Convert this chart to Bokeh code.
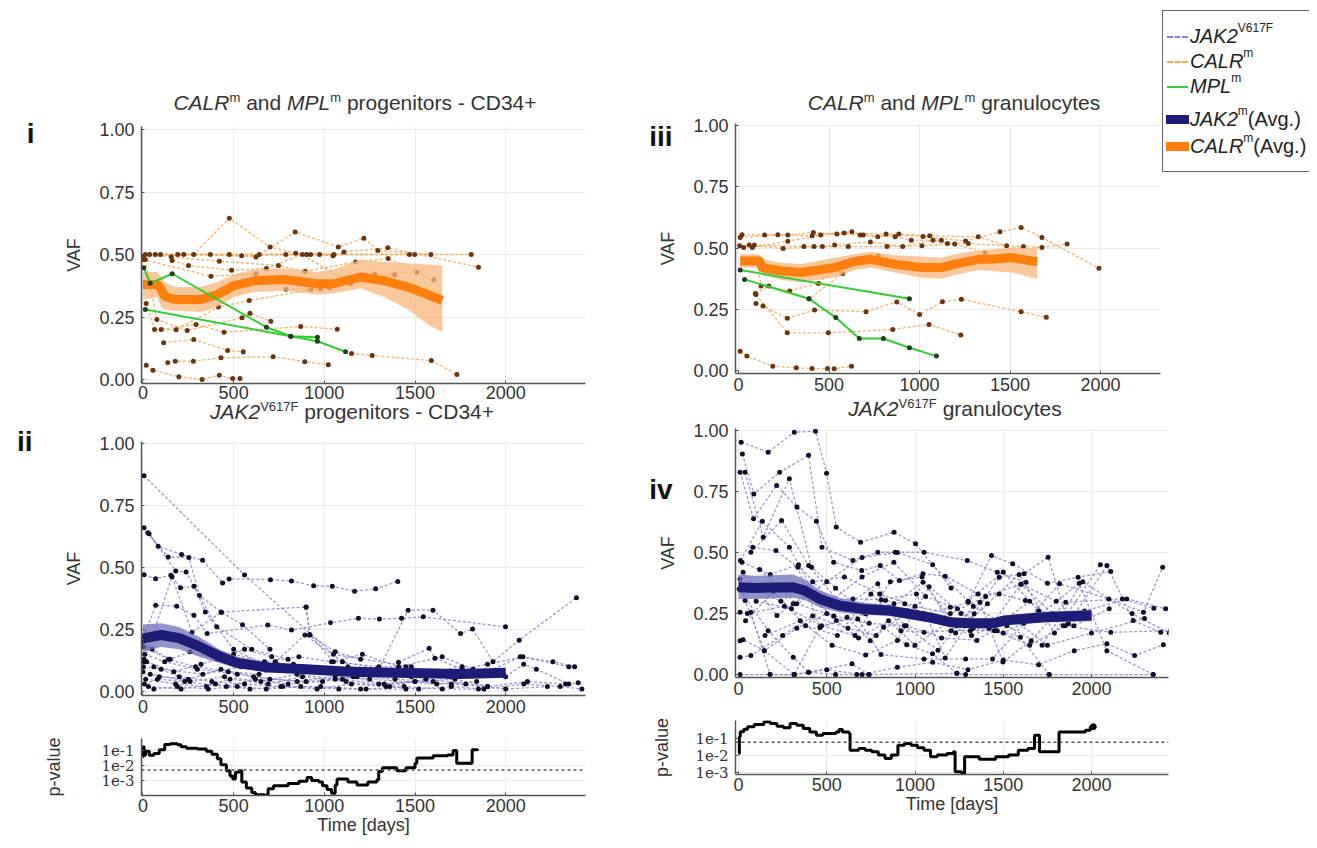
from bokeh.plotting import figure
from bokeh.models import (Range1d, FixedTicker, NumeralTickFormatter, CustomJSTickFormatter,
                          LinearAxis, Div, Spacer, Span)
from bokeh.layouts import row, column
from bokeh.embed import file_html
from bokeh.resources import INLINE

# ---------------- data ----------------
# Panel i : CALR / MPL progenitors (CD34+)
calr_cd34_t = [[13, 476, 925, 1498, 1810], [37, 225, 641, 974, 1469],
               [0, 280, 476, 701, 842, 1053], [68, 372, 623, 839, 1077, 1218, 1295, 1588],
               [97, 192, 544, 788, 903, 1048, 1108, 1350, 1850], [156, 421, 747, 894, 1172, 1352, 1603],
               [161, 251, 489, 681, 879, 1145, 1388], [0, 375, 623, 788, 980, 1278, 1511],
               [18, 64, 183, 416, 586, 925, 1029], [13, 77, 244, 546, 590, 705],
               [101, 293, 447, 870, 1071], [114, 280, 467, 553],
               [137, 178, 278, 430, 718, 892, 1022], [1150, 1264, 1590, 1731],
               [18, 55, 198, 326, 421, 495, 535]]
calr_cd34_v = [[0.50, 0.50, 0.50, 0.50, 0.50], [0.50, 0.50, 0.50, 0.50, 0.50],
               [0.49, 0.50, 0.645, 0.53, 0.505, 0.50], [0.50, 0.50, 0.49, 0.59, 0.53, 0.565, 0.516, 0.50],
               [0.50, 0.50, 0.495, 0.50, 0.50, 0.495, 0.51, 0.527, 0.449], [0.49, 0.473, 0.456, 0.433, 0.47, 0.484, 0.399],
               [0.476, 0.456, 0.437, 0.444, 0.50, 0.383, 0.419], [0.48, 0.413, 0.423, 0.361, 0.363, 0.421, 0.429],
               [0.304, 0.20, 0.199, 0.29, 0.316, 0.359, 0.367], [0.48, 0.24, 0.196, 0.247, 0.265, 0.233],
               [0.20, 0.22, 0.189, 0.212, 0.201], [0.147, 0.16, 0.116, 0.111],
               [0.067, 0.073, 0.073, 0.087, 0.091, 0.071, 0.059], [0.104, 0.096, 0.076, 0.02],
               [0.057, 0.037, 0.011, 0.0, 0.017, 0.004, 0.004]]
mpl_cd34_t = [[5, 40, 161, 681, 815, 962], [13, 815, 962, 1117]]
mpl_cd34_v = [[0.447, 0.385, 0.423, 0.209, 0.173, 0.169], [0.28, 0.173, 0.153, 0.111]]
calr_cd34_avg_t = [0, 80, 100, 120, 175, 320, 410, 500, 610, 780, 960, 1050, 1200, 1330, 1460, 1570, 1650]
calr_cd34_avg = [0.38, 0.38, 0.36, 0.333, 0.32, 0.32, 0.34, 0.375, 0.395, 0.40, 0.383, 0.383, 0.41, 0.395, 0.37, 0.34, 0.316]
calr_cd34_lo = [0.32, 0.33, 0.29, 0.28, 0.275, 0.27, 0.29, 0.33, 0.35, 0.355, 0.34, 0.345, 0.365, 0.33, 0.28, 0.22, 0.19]
calr_cd34_hi = [0.43, 0.43, 0.41, 0.39, 0.37, 0.37, 0.39, 0.42, 0.44, 0.445, 0.43, 0.44, 0.48, 0.47, 0.465, 0.46, 0.455]

# Panel iii : CALR / MPL granulocytes
calr_gran_t = [[9, 217, 406, 583, 815, 1019, 1254, 1444, 1561, 1676, 1991],
               [19, 144, 272, 413, 543, 672, 769, 885, 1056, 1324, 1481],
               [6, 59, 246, 417, 606, 820, 1013, 1194, 1361, 1574],
               [28, 87, 361, 463, 531, 728, 907, 1074, 1154, 1269, 1676, 1815],
               [76, 272, 454, 626, 689, 865, 954, 1120],
               [102, 124, 283, 441, 578, 772],
               [93, 167, 389, 576],
               [96, 135, 269, 420, 704, 874, 1000, 1126, 1231, 1561, 1700],
               [96, 269, 496, 852, 1052, 1228],
               [9, 46, 189, 319, 406, 491, 528, 624]]
calr_gran_v = [[0.543, 0.554, 0.55, 0.561, 0.557, 0.547, 0.529, 0.566, 0.584, 0.543, 0.417],
               [0.554, 0.553, 0.553, 0.563, 0.557, 0.553, 0.546, 0.557, 0.55, 0.546, 0.509],
               [0.509, 0.512, 0.498, 0.506, 0.506, 0.506, 0.509, 0.516, 0.482, 0.506],
               [0.502, 0.512, 0.506, 0.506, 0.512, 0.525, 0.506, 0.532, 0.518, 0.518, 0.502, 0.516],
               [0.502, 0.528, 0.553, 0.566, 0.553, 0.546, 0.532, 0.532],
               [0.45, 0.345, 0.325, 0.355, 0.44, 0.468],
               [0.314, 0.345, 0.293, 0.396],
               [0.274, 0.263, 0.213, 0.247, 0.24, 0.28, 0.229, 0.281, 0.291, 0.24, 0.218],
               [0.31, 0.154, 0.154, 0.168, 0.188, 0.145],
               [0.079, 0.059, 0.018, 0.011, 0.008, 0.008, 0.007, 0.018]]
mpl_gran_t = [[9, 944], [33, 389, 537, 667, 800, 944, 1093]]
mpl_gran_v = [[0.41, 0.293], [0.372, 0.293, 0.216, 0.131, 0.131, 0.093, 0.059]]
calr_gran_avg_t = [9, 115, 130, 230, 345, 530, 640, 730, 860, 1010, 1120, 1195, 1325, 1400, 1510, 1620, 1650]
calr_gran_avg = [0.447, 0.447, 0.42, 0.407, 0.40, 0.42, 0.445, 0.454, 0.434, 0.42, 0.42, 0.434, 0.454, 0.454, 0.461, 0.447, 0.445]
calr_gran_lo = [0.42, 0.42, 0.39, 0.37, 0.36, 0.38, 0.41, 0.42, 0.40, 0.38, 0.375, 0.39, 0.41, 0.405, 0.40, 0.38, 0.375]
calr_gran_hi = [0.475, 0.475, 0.455, 0.44, 0.435, 0.46, 0.475, 0.485, 0.47, 0.465, 0.46, 0.475, 0.49, 0.495, 0.50, 0.50, 0.505]

# Panel ii : JAK2 progenitors (CD34+)
jak_cd34_t = [[6, 560, 1050, 1480],
              [6, 84, 213, 329, 439, 475, 703, 819, 941, 1044, 1167, 1283, 1405],
              [27, 139, 253, 312, 432, 549, 700],
              [34, 181, 238, 407, 600, 800],
              [6, 70, 154, 207, 281, 344, 500, 690],
              [6, 70, 186, 281, 354, 688, 819, 1034, 1188, 1304, 1426, 1546, 1999],
              [6, 160, 270, 432, 899, 920, 1060, 1200],
              [700, 893, 1100, 1300, 1462, 1599, 1751, 1817, 1930, 2074, 2390],
              [1409, 1578, 1610, 1760, 1900, 2095, 2348],
              [1999, 2099, 2169, 2348, 2400],
              [6, 60, 200, 380, 560, 760, 980, 1200, 1450],
              [10, 120, 300, 520, 700, 900, 1100, 1300, 1500, 1700, 1900],
              [0, 90, 250, 430, 610, 850, 1060, 1250, 1620, 1840],
              [15, 180, 350, 480, 690, 880, 1120, 1340, 1560, 1780, 2000, 2230],
              [5, 140, 290, 470, 640, 830, 1010, 1180, 1390, 1600],
              [30, 210, 400, 590, 770, 960, 1150, 1360, 1520, 1700, 1880, 2100, 2300, 2420],
              [3, 100, 330, 540, 730, 940, 1130, 1290, 1470, 1690, 1870, 2080, 2260, 2380],
              [20, 170, 320, 500, 670, 860, 1040, 1210, 1410, 1650, 1820],
              [8, 80, 230, 460, 620, 800, 990, 1160, 1330, 1500, 1720, 1900, 2120, 2330],
              [40, 260, 450, 650, 850, 1060, 1270, 1480],
              [0, 50, 150, 260, 410, 560, 710],
              [900, 920, 1050, 1300, 1450, 1600, 1760],
              [60, 190, 360, 520, 680, 870, 1080, 1230, 1440, 1650, 1850]]
jak_cd34_v = [[0.87, 0.47, 0.15, 0.10],
              [0.66, 0.586, 0.552, 0.529, 0.438, 0.454, 0.451, 0.446, 0.426, 0.424, 0.404, 0.414, 0.444],
              [0.64, 0.542, 0.54, 0.387, 0.32, 0.269, 0.17],
              [0.636, 0.486, 0.482, 0.261, 0.17, 0.13],
              [0.471, 0.455, 0.469, 0.418, 0.424, 0.321, 0.17, 0.10],
              [0.22, 0.348, 0.344, 0.308, 0.234, 0.268, 0.248, 0.277, 0.295, 0.292, 0.295, 0.301, 0.261],
              [0.12, 0.463, 0.238, 0.32, 0.341, 0.228, 0.16, 0.13],
              [0.10, 0.228, 0.12, 0.09, 0.328, 0.328, 0.234, 0.252, 0.12, 0.207, 0.378],
              [0.118, 0.174, 0.134, 0.09, 0.11, 0.14, 0.10],
              [0.06, 0.11, 0.09, 0.03, 0.035],
              [0.13, 0.10, 0.06, 0.04, 0.03, 0.02, 0.02, 0.01, 0.01],
              [0.15, 0.12, 0.09, 0.07, 0.05, 0.04, 0.05, 0.03, 0.04, 0.03, 0.02],
              [0.08, 0.06, 0.05, 0.09, 0.06, 0.04, 0.06, 0.05, 0.03, 0.04],
              [0.05, 0.03, 0.02, 0.05, 0.03, 0.06, 0.04, 0.02, 0.05, 0.03, 0.01, 0.02],
              [0.18, 0.13, 0.10, 0.08, 0.07, 0.11, 0.08, 0.06, 0.05, 0.04],
              [0.02, 0.01, 0.03, 0.01, 0.02, 0.01, 0.03, 0.02, 0.01, 0.02, 0.01, 0.03, 0.02, 0.01],
              [0.10, 0.09, 0.07, 0.10, 0.12, 0.08, 0.10, 0.09, 0.08, 0.06, 0.07, 0.14, 0.12, 0.10],
              [0.12, 0.08, 0.11, 0.15, 0.12, 0.14, 0.12, 0.15, 0.10, 0.14, 0.09],
              [0.03, 0.05, 0.04, 0.02, 0.05, 0.03, 0.04, 0.06, 0.03, 0.04, 0.05, 0.02, 0.04, 0.03],
              [0.07, 0.04, 0.06, 0.04, 0.07, 0.05, 0.07, 0.06],
              [0.20, 0.17, 0.13, 0.16, 0.13, 0.17, 0.14],
              [0.34, 0.23, 0.12, 0.10, 0.10, 0.08, 0.10],
              [0.01, 0.02, 0.01, 0.02, 0.01, 0.02, 0.01, 0.01, 0.02, 0.01, 0.01]]
jak_cd34_avg_t = [0, 100, 200, 310, 420, 520, 690, 900, 1110, 1325, 1540, 1750, 2000]
jak_cd34_avg = [0.214, 0.228, 0.215, 0.182, 0.142, 0.115, 0.097, 0.09, 0.081, 0.077, 0.074, 0.071, 0.076]
jak_cd34_lo = [0.16, 0.18, 0.17, 0.14, 0.115, 0.095, 0.08, 0.075, 0.068, 0.064, 0.062, 0.058, 0.062]
jak_cd34_hi = [0.27, 0.275, 0.26, 0.22, 0.17, 0.14, 0.115, 0.105, 0.095, 0.09, 0.088, 0.085, 0.09]

# Panel iv : JAK2 granulocytes
jak_gran_t = [[15, 168, 316, 436, 499, 554, 691, 881, 1003, 1204],
              [22, 87, 233, 397, 473, 648, 789, 888, 1051, 1296, 1466, 1629],
              [9, 85, 216, 331, 441, 539, 698, 803, 912, 1045, 1171, 1357, 1477, 1625],
              [37, 140, 288, 414, 550, 720, 833, 942, 1051, 1200, 1302, 1433, 1553, 1750, 1924, 2109],
              [81, 212, 336, 462, 615, 746, 822, 953, 1099, 1237],
              [70, 244, 397, 593, 789, 920, 1051, 1204, 1313, 1466, 1597, 1760],
              [11, 135, 288, 451, 648, 809, 1008, 1171, 1335, 1477, 1618, 1754, 1869, 2087, 2236, 2392],
              [26, 218, 310, 397, 554, 676, 807, 1051, 1287, 1439, 1618, 1819, 2098, 2294, 2403],
              [4, 168, 310, 397, 643, 739],
              [9, 37, 146, 316, 462, 720, 881, 1045, 1237, 1368, 1498, 1658, 1854, 2175, 2353],
              [9, 70, 179, 316, 500, 700, 900, 1100, 1300, 1500, 1700, 1902, 2087, 2244, 2407],
              [9, 26, 146, 330, 500, 680, 850, 1000, 1180, 1330, 1500, 1700, 1930, 2087, 2349],
              [9, 70, 250, 420, 620, 780, 960, 1150, 1320, 1480, 1650, 1840, 2109, 2447],
              [9, 179, 316, 397, 550, 670, 739, 1237, 1287, 1760, 2349],
              [60, 240, 420, 600, 800, 1000, 1200, 1400, 1600, 1800],
              [100, 300, 500, 700, 900, 1100, 1300, 1500, 1700, 1900, 2100],
              [40, 200, 380, 560, 750, 950, 1150, 1350, 1550, 1750, 2000, 2300],
              [150, 350, 530, 720, 900, 1080, 1260, 1450, 1650, 1850],
              [20, 180, 340, 520, 700, 880, 1060, 1240, 1420, 1600, 1780, 1960, 2200, 2420],
              [50, 260, 470, 660, 860, 1040, 1230, 1410, 1590, 1790, 2050],
              [120, 330, 540, 740, 940, 1130, 1330, 1520, 1720, 1950, 2230, 2440]]
jak_gran_v = [[0.952, 0.911, 0.993, 0.997, 0.825, 0.604, 0.542, 0.583, 0.536, 0.355],
              [0.904, 0.74, 0.829, 0.898, 0.522, 0.467, 0.501, 0.501, 0.501, 0.467, 0.419, 0.378],
              [0.829, 0.638, 0.775, 0.686, 0.628, 0.46, 0.426, 0.447, 0.385, 0.413, 0.403, 0.33, 0.33, 0.303],
              [0.829, 0.563, 0.802, 0.44, 0.354, 0.249, 0.303, 0.29, 0.249, 0.276, 0.296, 0.488, 0.454, 0.374, 0.399, 0.422],
              [0.522, 0.508, 0.44, 0.194, 0.235, 0.139, 0.194, 0.122, 0.085, 0.005],
              [0.501, 0.631, 0.447, 0.276, 0.372, 0.18, 0.173, 0.18, 0.18, 0.18, 0.153, 0.0],
              [0.467, 0.628, 0.522, 0.303, 0.31, 0.307, 0.33, 0.068, 0.249, 0.399, 0.413, 0.481, 0.208, 0.447, 0.221, 0.173],
              [0.419, 0.242, 0.29, 0.33, 0.221, 0.228, 0.082, 0.064, 0.064, 0.064, 0.21, 0.372, 0.31, 0.255, 0.44],
              [0.351, 0.18, 0.071, 0.01, 0.044, 0.0],
              [0.392, 0.303, 0.098, 0.0, 0.194, 0.249, 0.29, 0.378, 0.20, 0.296, 0.051, 0.139, 0.296, 0.31, 0.272],
              [0.255, 0.255, 0.0, 0.0, 0.02, 0.0, 0.03, 0.05, 0.02, 0.06, 0.04, 0.098, 0.126, 0.078, 0.122],
              [0.139, 0.143, 0.098, 0.19, 0.25, 0.15, 0.22, 0.12, 0.21, 0.19, 0.17, 0.24, 0.374, 0.098, 0.0],
              [0.071, 0.078, 0.16, 0.24, 0.19, 0.16, 0.26, 0.22, 0.16, 0.21, 0.30, 0.20, 0.173, 0.18],
              [0.0, 0.0, 0.0, 0.01, 0.0, 0.0, 0.0, 0.005, 0.0, 0.0, 0.0],
              [0.36, 0.30, 0.38, 0.40, 0.33, 0.28, 0.25, 0.32, 0.37, 0.30],
              [0.30, 0.27, 0.38, 0.48, 0.50, 0.45, 0.30, 0.42, 0.26, 0.20, 0.27],
              [0.22, 0.34, 0.20, 0.16, 0.33, 0.20, 0.15, 0.14, 0.23, 0.12, 0.17, 0.23],
              [0.16, 0.22, 0.12, 0.08, 0.14, 0.36, 0.25, 0.18, 0.12, 0.20],
              [0.46, 0.41, 0.45, 0.30, 0.40, 0.46, 0.32, 0.27, 0.19, 0.37, 0.25, 0.26, 0.31, 0.27],
              [0.25, 0.28, 0.20, 0.16, 0.38, 0.40, 0.17, 0.29, 0.41, 0.17, 0.45],
              [0.43, 0.29, 0.24, 0.21, 0.20, 0.10, 0.28, 0.20, 0.12, 0.38, 0.25, 0.17]]
jak_gran_avg_t = [0, 90, 310, 375, 460, 570, 700, 855, 965, 1095, 1205, 1313, 1444, 1510, 1730, 2000]
jak_gran_avg = [0.358, 0.355, 0.358, 0.344, 0.31, 0.283, 0.269, 0.262, 0.249, 0.232, 0.214, 0.21, 0.21, 0.222, 0.235, 0.242]
jak_gran_lo = [0.31, 0.31, 0.315, 0.305, 0.275, 0.255, 0.245, 0.24, 0.228, 0.212, 0.195, 0.19, 0.19, 0.202, 0.213, 0.218]
jak_gran_hi = [0.41, 0.405, 0.41, 0.39, 0.345, 0.315, 0.295, 0.285, 0.27, 0.252, 0.233, 0.228, 0.23, 0.242, 0.257, 0.266]

# p-values (step curves)
pval_cd34_t = [0, 2, 6, 15, 35, 60, 90, 120, 150, 190, 210, 240, 300, 350, 380, 410, 430, 460, 480, 495,
               510, 530, 545, 570, 600, 620, 670, 690, 720, 800, 860, 905, 930, 970, 990, 1015, 1040, 1060,
               1070, 1130, 1180, 1240, 1290, 1300, 1320, 1400, 1450, 1500, 1510, 1600, 1680, 1710, 1730,
               1810, 1815, 1845]
pval_cd34 = [0.038, 0.178, 0.05, 0.089, 0.048, 0.063, 0.112, 0.251, 0.282, 0.24, 0.178, 0.141, 0.126, 0.089,
             0.056, 0.028, 0.0112, 0.0045, 0.002, 0.00126, 0.0035, 0.0045, 0.00079, 0.00032, 0.00016, 0.000112,
             0.000102, 0.00028, 0.00045, 0.00063, 0.00089, 0.0016, 0.001, 0.00079, 0.00045, 0.00025, 0.00014,
             0.0005, 0.00126, 0.00079, 0.0005, 0.00079, 0.00112, 0.004, 0.0071, 0.0045, 0.0071, 0.0141,
             0.0316, 0.0447, 0.05, 0.1, 0.0141, 0.0141, 0.112, 0.126]
pval_gran_t = [0, 5, 10, 30, 52, 89, 144, 180, 218, 255, 292, 330, 367, 404, 441, 478, 515, 552, 570, 589,
               626, 632, 681, 718, 755, 792, 830, 866, 903, 940, 977, 1014, 1051, 1088, 1126, 1181, 1218, 1227,
               1264, 1281, 1346, 1364, 1420, 1457, 1530, 1585, 1640, 1677, 1696, 1705, 1807, 1816, 1918, 1965,
               1993, 2010]
pval_gran = [0.0132, 0.126, 0.251, 0.355, 0.49, 0.66, 0.955, 0.76, 0.525, 0.427, 0.76, 0.6, 0.39, 0.245,
             0.158, 0.195, 0.195, 0.245, 0.339, 0.245, 0.195, 0.0204, 0.0257, 0.0204, 0.0166, 0.0105, 0.0066,
             0.0105, 0.0407, 0.0513, 0.0407, 0.0282, 0.0204, 0.0083, 0.0105, 0.0132, 0.0166, 0.0011, 0.00087,
             0.0083, 0.0083, 0.006, 0.006, 0.0083, 0.0105, 0.0204, 0.0257, 0.158, 0.158, 0.0166, 0.0166,
             0.245, 0.245, 0.309, 0.49, 0.49]
alpha_cd34 = 0.005
alpha_gran = 0.06

x_ticks = [0, 500, 1000, 1500, 2000]
vaf_ticks = [0.0, 0.25, 0.5, 0.75, 1.0]
p_ticks = [1e-3, 1e-2, 1e-1]

# ---------------- styling ----------------
FONT = "Liberation Sans"
JAK_LINE, JAK_DOT, JAK_AVG, JAK_BAND = "#8280c8", "#0e0e28", "#1d1d78", "#6f6fb9"
CALR_LINE, CALR_DOT, CALR_AVG, CALR_BAND = "#f5aa55", "#6a3410", "#ff7f0e", "#f9b67a"
MPL_LINE, MPL_DOT = "#33cc33", "#1f3d1f"


def make_fig(width, height, xr, yr, borders, log=False):
    p = figure(width=width, height=height, x_range=Range1d(*xr), y_range=Range1d(*yr),
               y_axis_type="log" if log else "linear", output_backend="svg", toolbar_location=None,
               min_border_left=borders[0], min_border_right=borders[1],
               min_border_top=borders[2], min_border_bottom=borders[3])
    p.outline_line_color = None
    p.border_fill_alpha = 0.0
    p.background_fill_color = "white"
    for ax in p.axis:
        ax.axis_line_color = "#555555"
        ax.axis_line_width = 1.5
        ax.major_tick_in = 3
        ax.major_tick_out = 0
        ax.minor_tick_in = 0
        ax.minor_tick_out = 0
        ax.major_tick_line_color = "#555555"
        ax.major_label_text_font = FONT
        ax.major_label_text_font_size = "18px"
        ax.major_label_text_color = "#333333"
        ax.axis_label_text_font = FONT
        ax.axis_label_text_font_size = "18px"
        ax.axis_label_text_font_style = "normal"
        ax.axis_label_text_color = "#333333"
    p.xaxis.ticker = FixedTicker(ticks=x_ticks)
    p.xgrid.ticker = FixedTicker(ticks=x_ticks)
    p.xaxis.major_label_standoff = 4
    p.yaxis.major_label_standoff = 7
    p.xgrid.grid_line_color = "#ebebeb"
    p.ygrid.grid_line_color = "#ebebeb"
    return p


def vaf_fig(width, height, xr, yr, borders):
    p = make_fig(width, height, xr, yr, borders)
    p.yaxis.ticker = FixedTicker(ticks=vaf_ticks)
    p.ygrid.ticker = FixedTicker(ticks=vaf_ticks)
    p.yaxis.formatter = NumeralTickFormatter(format="0.00")
    p.yaxis.axis_label = "VAF"
    p.yaxis.axis_label_standoff = 12
    return p


def pv_fig(width, height, xr, yr, borders, label_standoff):
    p = make_fig(width, height, xr, yr, borders, log=True)
    p.yaxis.ticker = FixedTicker(ticks=p_ticks)
    p.ygrid.ticker = FixedTicker(ticks=p_ticks)
    p.yaxis.formatter = CustomJSTickFormatter(code="return '1e' + Math.round(Math.log10(tick));")
    p.yaxis.major_label_text_font = "DejaVu Serif"
    p.yaxis.major_label_text_font_size = "15px"
    p.yaxis.axis_label = "p-value"
    p.yaxis.axis_label_standoff = label_standoff
    p.xaxis.axis_label = "Time [days]"
    p.xaxis.axis_label_standoff = 0
    p.xaxis.major_label_standoff = 3
    return p


def trajectories(p, ts, vs, lcolor, dcolor, dash="3 2", lw=1.3, alpha=0.9):
    p.multi_line(xs=ts, ys=vs, line_color=lcolor, line_width=lw, line_dash=dash, line_alpha=alpha)
    p.scatter(x=[t for tr in ts for t in tr], y=[v for tr in vs for v in tr],
              size=5, fill_color=dcolor, line_color=None)


def average(p, t, m, lo, hi, color, band, lw):
    p.varea(x=t, y1=lo, y2=hi, fill_color=band, fill_alpha=0.75)
    p.line(t, m, line_color=color, line_width=lw, line_join="round")


def panel_label(p, text, yval, standoff):
    # an extra, line-less left axis with a single tick carries the panel label
    ax = LinearAxis(ticker=FixedTicker(ticks=[yval]),
                    formatter=CustomJSTickFormatter(code="return '%s';" % text))
    ax.axis_line_color = None
    ax.major_tick_line_color = None
    ax.minor_tick_line_color = None
    ax.major_tick_in = 0
    ax.major_tick_out = 0
    ax.major_label_standoff = standoff
    ax.major_label_text_font = FONT
    ax.major_label_text_font_size = "28px"
    ax.major_label_text_font_style = "bold"
    ax.major_label_text_color = "#111111"
    p.add_layout(ax, "left")


def title_div(html, width, height, center, shift=0):
    inner = ('<div style="position:relative;top:%dpx;margin-left:%dpx;width:400px;text-align:center;'
             'font-family:\'Liberation Sans\';font-size:21px;color:#333;white-space:nowrap;'
             'height:%dpx;line-height:%dpx;">%s</div>'
             % (shift, center - 200, height, height, html))
    return Div(text=inner, width=width, height=height, margin=(0, 0, 0, 0))


def sup(s):
    return '<span style="font-size:13px;position:relative;top:-8px;">%s</span>' % s


# ---------------- panel i ----------------
XR_L = (-8, 2440)
fig_i = vaf_fig(602, 291, XR_L, (-0.016, 1.012), (133, 25, 11, 23))
fig_i.xaxis.major_label_standoff = 2
trajectories(fig_i, calr_cd34_t, calr_cd34_v, CALR_LINE, CALR_DOT)
average(fig_i, calr_cd34_avg_t, calr_cd34_avg, calr_cd34_lo, calr_cd34_hi, CALR_AVG, CALR_BAND, 9)
trajectories(fig_i, mpl_cd34_t, mpl_cd34_v, MPL_LINE, MPL_DOT, dash="solid", lw=2, alpha=1.0)
panel_label(fig_i, "i", 1.005, 27)

# ---------------- panel ii ----------------
fig_ii = vaf_fig(602, 296, XR_L, (-0.016, 1.008), (133, 25, 17, 25))
trajectories(fig_ii, jak_cd34_t, jak_cd34_v, JAK_LINE, JAK_DOT, alpha=0.8)
average(fig_ii, jak_cd34_avg_t, jak_cd34_avg, jak_cd34_lo, jak_cd34_hi, JAK_AVG, JAK_BAND, 10)
panel_label(fig_ii, "ii", 1.007, 29)

# ---------------- p-values left ----------------
pv_l = pv_fig(602, 119, XR_L, (1e-4, 10 ** -0.2), (133, 25, 18, 44), 34)
pv_l.step(pval_cd34_t, pval_cd34, mode="after", line_color="black", line_width=3)
pv_l.add_layout(Span(location=alpha_cd34, dimension="width", line_dash="3 3",
                     line_color="#555555", line_width=1.5))

# ---------------- panel iii ----------------
fig_iii = vaf_fig(552, 283, (-17, 2331), (-0.012, 1.008), (125, 2, 8, 25))
trajectories(fig_iii, calr_gran_t, calr_gran_v, CALR_LINE, CALR_DOT)
average(fig_iii, calr_gran_avg_t, calr_gran_avg, calr_gran_lo, calr_gran_hi, CALR_AVG, CALR_BAND, 9)
trajectories(fig_iii, mpl_gran_t, mpl_gran_v, MPL_LINE, MPL_DOT, dash="solid", lw=2, alpha=1.0)
panel_label(fig_iii, "iii", 1.0, -17)

# ---------------- panel iv ----------------
XR_R = (-17, 2436)
fig_iv = vaf_fig(699, 280, XR_R, (-0.012, 1.008), (125, 141, 6, 25))
trajectories(fig_iv, jak_gran_t, jak_gran_v, JAK_LINE, JAK_DOT, alpha=0.8)
average(fig_iv, jak_gran_avg_t, jak_gran_avg, jak_gran_lo, jak_gran_hi, JAK_AVG, JAK_BAND, 10)
panel_label(fig_iv, "iv", 0.76, -17)

# ---------------- p-values right ----------------
pv_r = pv_fig(699, 116, XR_R, (10 ** -3.12, 10 ** 0.06), (125, 141, 18, 44), 20)
pv_r.step(pval_gran_t, pval_gran, mode="after", line_color="black", line_width=3)
pv_r.scatter([pval_gran_t[-1]], [pval_gran[-1]], size=6, color="black")
pv_r.add_layout(Span(location=alpha_gran, dimension="width", line_dash="3 3",
                     line_color="#555555", line_width=1.5))

# ---------------- titles & legend ----------------
t_i = title_div('<i>CALR</i>%s and <i>MPL</i>%s progenitors - CD34+' % (sup("m"), sup("m")), 602, 21, 347, -2)
t_ii = title_div('<i>JAK2</i>%s progenitors - CD34+' % sup("V617F"), 602, 18, 344, -3)
t_iii = title_div('<i>CALR</i>%s and <i>MPL</i>%s granulocytes' % (sup("m"), sup("m")), 552, 21, 344, -2)
t_iv = title_div('<i>JAK2</i>%s granulocytes' % sup("V617F"), 699, 24, 345, -1)


def leg_row(sample, label, h=25, mt=0):
    return ('<div style="height:%dpx;margin-top:%dpx;display:flex;align-items:center;white-space:nowrap;">'
            '%s%s</div>' % (h, mt, sample, label))


dash_s = '<span style="display:inline-block;width:21px;height:0;border-top:2px dashed %s;margin:0 2px 0 4px;"></span>'
solid_s = '<span style="display:inline-block;width:21px;height:0;border-top:2px solid %s;margin:0 2px 0 4px;"></span>'
bar_s = '<span style="display:inline-block;width:23px;height:9px;background:%s;margin:0 1px 0 3px;"></span>'


def lsup(s):
    return '<span style="font-size:12px;position:relative;top:-8px;">%s</span>' % s


legend_html = (
    '<div style="box-sizing:border-box;width:147px;height:162px;border:1.5px solid #666;border-right:none;'
    'background:#fff;font-family:\'Liberation Sans\';font-size:20px;color:#222;padding-top:13px;">'
    + leg_row(dash_s % JAK_LINE, '<i>JAK2</i>' + lsup('V617F'))
    + leg_row(dash_s % CALR_LINE, '<i>CALR</i>' + lsup('m'))
    + leg_row(solid_s % MPL_LINE, '<i>MPL</i>' + lsup('m'))
    + leg_row(bar_s % JAK_AVG, '<i>JAK2</i>' + lsup('m') + '(Avg.)', h=27, mt=7)
    + leg_row(bar_s % CALR_AVG, '<i>CALR</i>' + lsup('m') + '(Avg.)', h=27)
    + '</div>')
legend = Div(text=legend_html, width=147, height=162, margin=(0, 0, 0, 0))

left_col = column(Spacer(width=602, height=86, margin=(0, 0, 0, 0)), t_i, fig_i, t_ii, fig_ii, pv_l)
top_right = row(column(Spacer(width=552, height=86, margin=(0, 0, 0, 0)), t_iii, fig_iii),
                column(Spacer(width=147, height=2, margin=(0, 0, 0, 0)), legend))
right_col = column(top_right, t_iv, fig_iv, pv_r)
body = row(left_col, right_col)
layout = row(Spacer(width=8, height=840, margin=(0, 0, 0, 0)),
             column(Spacer(width=1301, height=8, margin=(0, 0, 0, 0)), body))

open("out.html", "w").write(file_html(layout, INLINE))
